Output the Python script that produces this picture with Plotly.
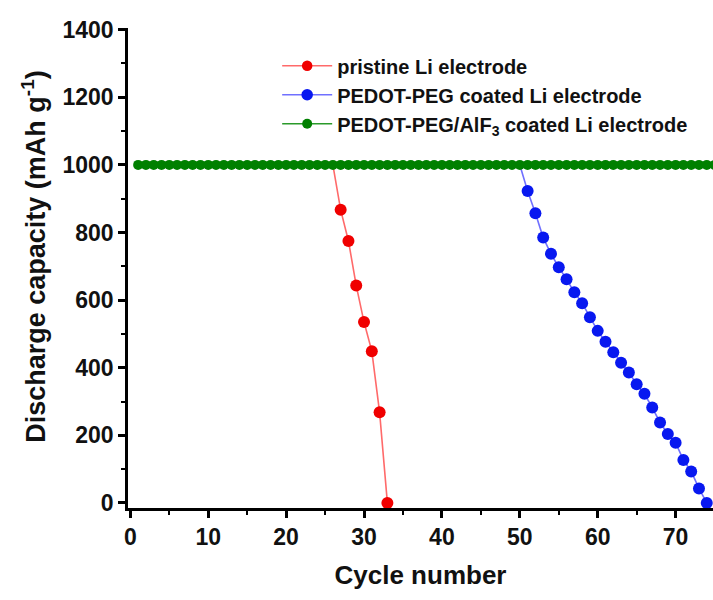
import plotly.graph_objects as go

# Data
green_cycles = list(range(1, 76))
green_capacity = [1000] * 75

red_cycles = [26, 27, 28, 29, 30, 31, 32, 33]
red_capacity = [1000, 867, 775, 643, 535, 449, 268, 0]

blue_cycles = [50, 51, 52, 53, 54, 55, 56, 57, 58, 59, 60, 61, 62,
               63, 64, 65, 66, 67, 68, 69, 70, 71, 72, 73, 74]
blue_capacity = [1000, 923, 857, 785, 737, 697, 662, 623, 591, 549, 509, 477, 446,
                 415, 386, 351, 323, 282, 238, 204, 178, 127, 93, 43, 0]

names = ["pristine Li electrode",
         "PEDOT-PEG coated Li electrode",
         "PEDOT-PEG/AlF<sub>3</sub> coated Li electrode"]

x_title = "Cycle number"
y_title = "Discharge capacity (mAh g<sup>-1</sup>)"

FONT = "Liberation Sans, Arial, sans-serif"

fig = go.Figure()

fig.add_trace(go.Scatter(
    x=red_cycles, y=red_capacity, mode="lines+markers", name=names[0],
    line=dict(color="#ff6a6a", width=1.6),
    marker=dict(color="#f00000", opacity=1, size=[0] + [12] * (len(red_cycles) - 1),
                line=dict(width=0)),
))
fig.add_trace(go.Scatter(
    x=blue_cycles, y=blue_capacity, mode="lines+markers", name=names[1],
    line=dict(color="#7070ff", width=1.6),
    marker=dict(color="#0818f0", opacity=1, size=[0] + [12] * (len(blue_cycles) - 1),
                line=dict(width=0)),
))
fig.add_trace(go.Scatter(
    x=green_cycles, y=green_capacity, mode="lines+markers", name=names[2],
    line=dict(color="#2a9a2a", width=1.6),
    marker=dict(color="#008000", opacity=1, size=10,
                line=dict(width=0)),
))

axis_common = dict(
    showline=True, linecolor="black", linewidth=2.5,
    ticks="outside", ticklen=7, tickwidth=2.5, tickcolor="black",
    showgrid=False, zeroline=False, mirror=False,
    tickfont=dict(family=FONT, size=23, color="#111", weight="bold"),
)

fig.update_xaxes(
    range=[-0.3, 74.8], dtick=10, tick0=0,
    minor=dict(dtick=5, ticks="outside", ticklen=4, tickwidth=2, tickcolor="black"),
    title=dict(text=x_title, standoff=17,
               font=dict(family=FONT, size=26, color="#111", weight="bold")),
    **axis_common,
)
fig.update_yaxes(
    range=[-15, 1405], dtick=200, tick0=0,
    minor=dict(dtick=100, ticks="outside", ticklen=4, tickwidth=2, tickcolor="black"),
    **axis_common,
)

fig.add_annotation(
    text=y_title, textangle=-90, showarrow=False,
    xref="paper", yref="paper", x=-0.161, y=0.523,
    xanchor="center", yanchor="middle",
    font=dict(family=FONT, size=27, color="#111", weight="bold"),
)

fig.update_layout(
    width=713, height=600,
    margin=dict(l=128, r=0, t=28, b=92),
    paper_bgcolor="white", plot_bgcolor="white",
    showlegend=True,
    legend=dict(
        x=0.255, y=0.962, xanchor="left", yanchor="top",
        bgcolor="rgba(0,0,0,0)", borderwidth=0,
        font=dict(family=FONT, size=20, color="#111", weight="bold"),
        itemwidth=50, tracegroupgap=0,
    ),
)

fig.write_html("out.html")
